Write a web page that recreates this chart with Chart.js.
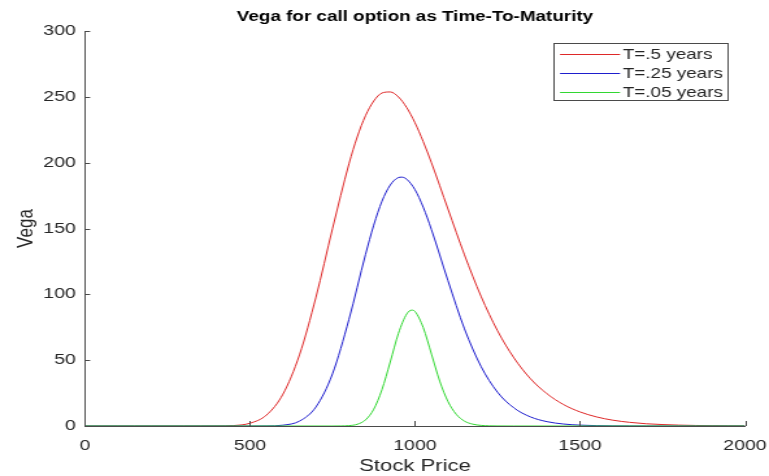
<!DOCTYPE html>
<html>
<head>
<meta charset="utf-8">
<script src="https://cdn.jsdelivr.net/npm/chart.js@4.4.1/dist/chart.umd.min.js"></script>
<style>
  html, body { margin: 0; padding: 0; background: #fff; overflow: hidden; }
  canvas { display: block; }
</style>
</head>
<body>
<!-- the reference figure is stretched sideways, so the canvas is drawn narrow and shown at 769px -->
<canvas id="vegaChart" width="592" height="476" style="width:769px;height:476px"></canvas>
<script>
// values
const redPrice = [0, 50, 100, 150, 200, 250, 300, 350, 400, 450, 500, 550, 600, 650, 700, 750, 800,
  825, 850, 875, 900, 925, 950, 975, 1000, 1025, 1050,
  1100, 1150, 1200, 1250, 1300, 1350, 1400, 1450, 1500, 1550, 1600, 1650, 1700, 1750, 1800, 1850, 1900, 1950, 2000];
const redVega = [0, 0, 0, 0, 0, 0, 0, 0.01, 0.03, 0.34, 2.1, 8.3, 24.2, 54.0, 97.9, 149.8, 199.1,
  219.5, 235.6, 246.8, 252.9, 253.7, 249.9, 241.8, 230.3, 216.0, 199.9,
  164.8, 130.0, 98.6, 72.4, 51.7, 35.9, 24.5, 16.3, 10.7, 6.9, 4.4, 2.8, 1.7, 1.1, 0.67, 0.41, 0.25, 0.15, 0.09];

const bluePrice = [0, 50, 100, 150, 200, 250, 300, 350, 400, 450, 500, 550, 600, 650, 700, 750, 800,
  850, 875, 900, 925, 950, 960, 975, 1000, 1025, 1050,
  1100, 1150, 1200, 1250, 1300, 1350, 1400, 1450, 1500, 1550, 1600, 1650, 1700, 1750, 1800, 1850, 1900, 1950, 2000];
const blueVega = [0, 0, 0, 0, 0, 0, 0, 0, 0, 0, 0, 0.06, 0.62, 3.7, 14.5, 39.6, 81.0,
  130.1, 152.5, 170.7, 183.0, 188.7, 189.0, 187.4, 179.5, 166.2, 149.1,
  110.4, 73.8, 45.3, 25.7, 13.7, 6.9, 3.3, 1.5, 0.66, 0.28, 0.11, 0.04, 0.01, 0, 0, 0, 0, 0, 0];

const greenPrice = [0, 750, 775, 800, 825, 850, 875, 900, 925, 950, 975, 990, 1000,
  1025, 1050, 1075, 1100, 1125, 1150, 1175, 1200, 1225, 1250, 1300, 2000];
const greenVega = [0, 0, 0.05, 0.29, 1.3, 4.6, 12.7, 27.6, 48.6, 70.4, 85.1, 88.0, 87.0,
  74.8, 54.6, 34.1, 18.6, 8.9, 3.7, 1.4, 0.47, 0.14, 0.04, 0, 0];

const seriesLabels = ["T=.5 years", "T=.25 years", "T=.05 years"];

const axisColor = "#4a4a4a";
const labelColor = "#262626";

Chart.defaults.font.family = '"Liberation Sans", Arial, Helvetica, sans-serif';

function points(xs, ys) {
  return xs.map((x, i) => ({ x: x, y: ys[i] }));
}

// MATLAB style ticks pointing into the plot
const inwardTicks = {
  id: "inwardTicks",
  afterDraw(chart) {
    const { ctx, chartArea, scales } = chart;
    ctx.save();
    ctx.strokeStyle = axisColor;
    ctx.lineWidth = 1;
    ctx.beginPath();
    scales.x.ticks.forEach(t => {
      const px = Math.round(scales.x.getPixelForValue(t.value)) + 0.5;
      ctx.moveTo(px, chartArea.bottom);
      ctx.lineTo(px, chartArea.bottom - 5);
    });
    scales.y.ticks.forEach(t => {
      const py = Math.round(scales.y.getPixelForValue(t.value)) + 0.5;
      ctx.moveTo(chartArea.left, py);
      ctx.lineTo(chartArea.left + 4, py);
    });
    ctx.stroke();
    ctx.restore();
  }
};

// boxed legend in the top right corner
const boxLegend = {
  id: "boxLegend",
  afterDraw(chart) {
    const ctx = chart.ctx;
    const left = 426.5, top = 43.5, w = 134, h = 57;
    ctx.save();
    ctx.fillStyle = "#fff";
    ctx.fillRect(left, top, w, h);
    ctx.strokeStyle = axisColor;
    ctx.lineWidth = 1;
    ctx.strokeRect(left, top, w, h);
    ctx.font = '14.5px "Liberation Sans", Arial, sans-serif';
    ctx.textBaseline = "middle";
    chart.data.datasets.forEach((ds, i) => {
      const y = 54 + i * 19;
      ctx.strokeStyle = ds.borderColor;
      ctx.beginPath();
      ctx.moveTo(left + 4.6, y + 0.5);
      ctx.lineTo(left + 50.8, y + 0.5);
      ctx.stroke();
      ctx.fillStyle = labelColor;
      ctx.fillText(ds.label, left + 53, y + 1);
    });
    ctx.restore();
  }
};

const ctx = document.getElementById("vegaChart");

new Chart(ctx, {
  type: "line",
  data: {
    datasets: [
      { label: seriesLabels[0], data: points(redPrice, redVega), borderColor: "rgb(222,40,40)", order: 2 },
      { label: seriesLabels[1], data: points(bluePrice, blueVega), borderColor: "rgb(30,30,205)", order: 1 },
      { label: seriesLabels[2], data: points(greenPrice, greenVega), borderColor: "rgb(50,215,50)", order: 0 }
    ]
  },
  options: {
    responsive: false,
    animation: false,
    events: [],
    layout: { padding: { left: 0, right: 18.5, top: 0, bottom: 0 } },
    elements: {
      point: { radius: 0 },
      line: { borderWidth: 1, fill: false, cubicInterpolationMode: "monotone" }
    },
    plugins: {
      legend: { display: false },
      tooltip: { enabled: false },
      title: {
        display: true,
        text: "Vega for call option as Time-To-Maturity",
        fullSize: false,
        color: "#000",
        font: { size: 14.5, weight: "bold" },
        padding: { top: 8, bottom: 5.6 }
      }
    },
    scales: {
      x: {
        type: "linear",
        min: 0,
        max: 2000,
        afterFit(scale) {
          scale.height = 50;
          scale.paddingLeft = 0;
          scale.paddingRight = 0;
        },
        grid: { display: false, drawTicks: false },
        border: { display: true, color: axisColor, width: 1 },
        ticks: {
          stepSize: 500,
          padding: 11,
          color: labelColor,
          maxRotation: 0,
          font: { size: 15 },
          callback: v => String(v)
        },
        title: {
          display: true,
          text: "Stock Price",
          color: labelColor,
          font: { size: 17, lineHeight: 1.1 },
          padding: { top: 0, bottom: 0 }
        }
      },
      y: {
        min: 0,
        max: 300,
        afterFit(scale) { scale.width = 65.4; },
        grid: { display: false, drawTicks: false },
        border: { display: true, color: axisColor, width: 1 },
        ticks: {
          stepSize: 50,
          padding: 7,
          color: labelColor,
          font: { size: 15 },
          callback: v => String(v)
        },
        title: {
          display: true,
          text: "Vega",
          color: labelColor,
          font: { size: 17 },
          padding: { top: 10, bottom: 0 }
        }
      }
    }
  },
  plugins: [inwardTicks, boxLegend]
});
</script>
</body>
</html>
